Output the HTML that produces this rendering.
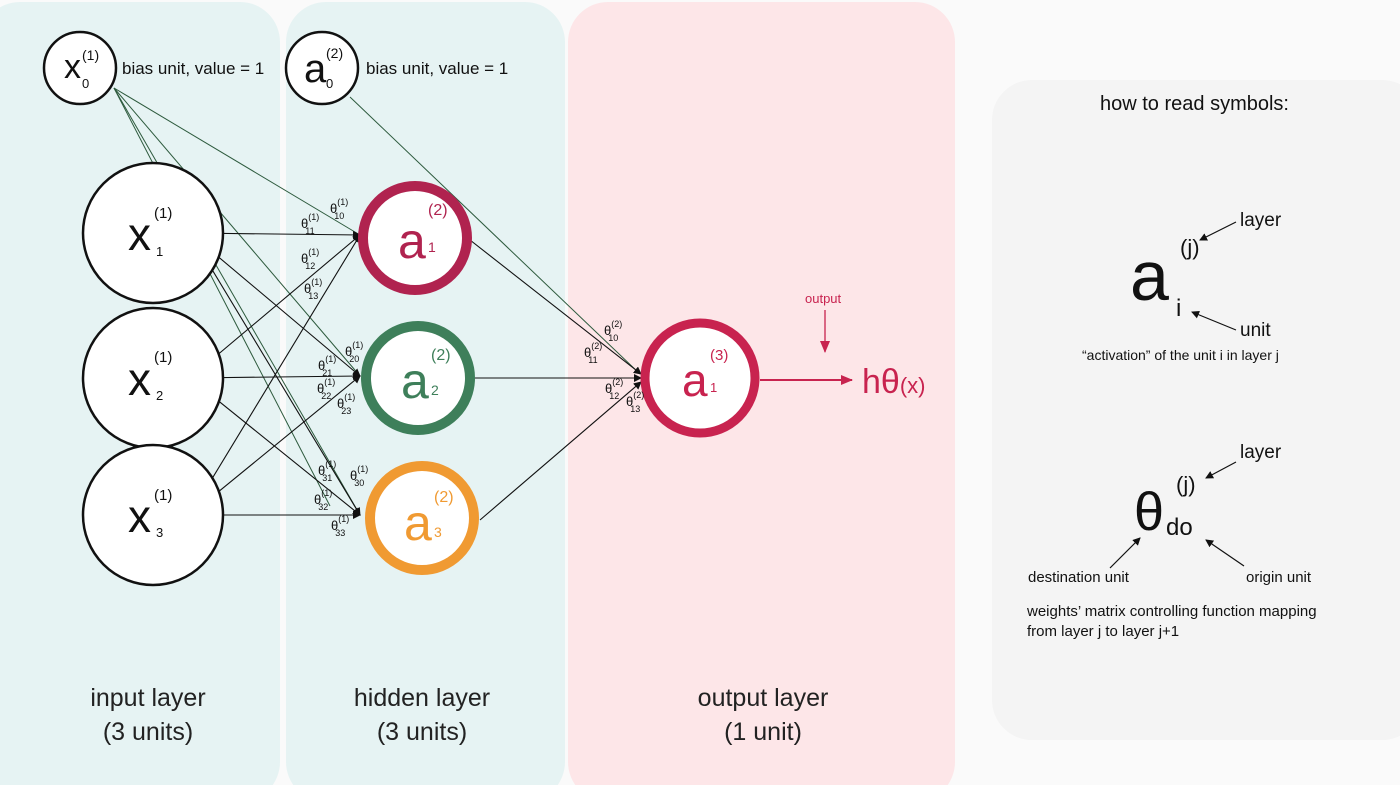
<!DOCTYPE html>
<html><head><style>
body{margin:0;width:1400px;height:785px;background:#fff;overflow:hidden;font-family:"Liberation Sans","DejaVu Sans",sans-serif}
</style></head><body>
<svg width="1400" height="785" viewBox="0 0 1400 785" xmlns="http://www.w3.org/2000/svg" font-family="Liberation Sans, DejaVu Sans, sans-serif">
<defs><marker id="ar" markerWidth="8" markerHeight="8" refX="7" refY="4" orient="auto" markerUnits="userSpaceOnUse"><path d="M0,0 L8,4 L0,8 z" fill="#111"/></marker>
<marker id="ar2" markerWidth="12" markerHeight="10" refX="11" refY="5" orient="auto" markerUnits="userSpaceOnUse"><path d="M0,0 L12,5 L0,10 z" fill="#c8234f"/></marker></defs>
<rect x="0" y="0" width="1400" height="785" fill="#fafafa"/>
<rect x="-20" y="2" width="300" height="800" rx="40" fill="#e6f3f3"/>
<rect x="286" y="2" width="279" height="800" rx="40" fill="#e6f3f3"/>
<rect x="568" y="2" width="387" height="800" rx="40" fill="#fde6e8"/>
<rect x="992" y="80" width="430" height="660" rx="40" fill="#f4f4f4"/>
<g stroke="#2d5a3d" stroke-width="1" fill="none">
<line x1="114" y1="88" x2="360" y2="235"/>
<line x1="114" y1="88" x2="360" y2="376"/>
<line x1="114" y1="88" x2="360" y2="515"/>
<line x1="114" y1="88" x2="330" y2="506"/>
<line x1="350" y1="97" x2="640" y2="374"/>
</g>
<g stroke="#111" stroke-width="1.1" fill="none" marker-end="url(#ar)">
<line x1="190" y1="233" x2="360" y2="235"/>
<line x1="190" y1="233" x2="360" y2="376"/>
<line x1="190" y1="233" x2="360" y2="515"/>
<line x1="190" y1="378" x2="360" y2="235"/>
<line x1="190" y1="378" x2="360" y2="376"/>
<line x1="190" y1="378" x2="360" y2="515"/>
<line x1="190" y1="515" x2="360" y2="235"/>
<line x1="190" y1="515" x2="360" y2="376"/>
<line x1="190" y1="515" x2="360" y2="515"/>
<line x1="470" y1="240" x2="641" y2="374"/>
<line x1="475" y1="378" x2="641" y2="378"/>
<line x1="480" y1="520" x2="641" y2="382"/>
</g>
<line x1="760" y1="380" x2="852" y2="380" stroke="#c8234f" stroke-width="2" marker-end="url(#ar2)"/>
<line x1="825" y1="310" x2="825" y2="352" stroke="#c8234f" stroke-width="1.3" marker-end="url(#ar2)"/>
<text x="805" y="303" font-size="13" fill="#c8234f">output</text>
<text x="862" y="393" font-size="34" fill="#c8234f">hθ<tspan font-size="22">(x)</tspan></text>
<g fill="#fff" stroke="#111" stroke-width="2.5">
<circle cx="80" cy="68" r="36"/><circle cx="322" cy="68" r="36"/>
<circle cx="153" cy="233" r="70"/><circle cx="153" cy="378" r="70"/><circle cx="153" cy="515" r="70"/>
</g>
<circle cx="415" cy="238" r="52" fill="#fff" stroke="#b0234f" stroke-width="10"/>
<circle cx="418" cy="378" r="52" fill="#fff" stroke="#3e7f5a" stroke-width="10"/>
<circle cx="422" cy="518" r="52" fill="#fff" stroke="#f09a32" stroke-width="10"/>
<circle cx="700" cy="378" r="55" fill="#fff" stroke="#c8234f" stroke-width="9"/>
<g font-size="17" fill="#111"><text x="122" y="74">bias unit, value = 1</text><text x="366" y="74">bias unit, value = 1</text></g>
<g fill="#111">
<text x="64" y="78" font-size="34">x</text><text x="82" y="60" font-size="14">(1)</text><text x="82" y="88" font-size="13">0</text>
<text x="304" y="82" font-size="40">a</text><text x="326" y="58" font-size="14">(2)</text><text x="326" y="88" font-size="13">0</text>
<text x="128" y="250" font-size="46">x</text><text x="154" y="218" font-size="15">(1)</text><text x="156" y="256" font-size="13">1</text>
<text x="128" y="395" font-size="46">x</text><text x="154" y="362" font-size="15">(1)</text><text x="156" y="400" font-size="13">2</text>
<text x="128" y="532" font-size="46">x</text><text x="154" y="500" font-size="15">(1)</text><text x="156" y="537" font-size="13">3</text>
</g>
<text x="398" y="258" font-size="50" fill="#b0234f">a</text><text x="428" y="215" font-size="16" fill="#b0234f">(2)</text><text x="428" y="252" font-size="14" fill="#b0234f">1</text>
<text x="401" y="398" font-size="50" fill="#3e7f5a">a</text><text x="431" y="360" font-size="16" fill="#3e7f5a">(2)</text><text x="431" y="395" font-size="14" fill="#3e7f5a">2</text>
<text x="404" y="540" font-size="50" fill="#f09a32">a</text><text x="434" y="502" font-size="16" fill="#f09a32">(2)</text><text x="434" y="537" font-size="14" fill="#f09a32">3</text>
<text x="682" y="396" font-size="46" fill="#c8234f">a</text><text x="710" y="360" font-size="15" fill="#c8234f">(3)</text><text x="710" y="392" font-size="13" fill="#c8234f">1</text>
<g font-size="13" fill="#111">
<text x="330" y="213">θ<tspan font-size="9" dy="-8">(1)</tspan><tspan font-size="9" dx="-14" dy="14">10</tspan></text>
<text x="301" y="228">θ<tspan font-size="9" dy="-8">(1)</tspan><tspan font-size="9" dx="-14" dy="14">11</tspan></text>
<text x="301" y="263">θ<tspan font-size="9" dy="-8">(1)</tspan><tspan font-size="9" dx="-14" dy="14">12</tspan></text>
<text x="304" y="293">θ<tspan font-size="9" dy="-8">(1)</tspan><tspan font-size="9" dx="-14" dy="14">13</tspan></text>
<text x="345" y="356">θ<tspan font-size="9" dy="-8">(1)</tspan><tspan font-size="9" dx="-14" dy="14">20</tspan></text>
<text x="318" y="370">θ<tspan font-size="9" dy="-8">(1)</tspan><tspan font-size="9" dx="-14" dy="14">21</tspan></text>
<text x="317" y="393">θ<tspan font-size="9" dy="-8">(1)</tspan><tspan font-size="9" dx="-14" dy="14">22</tspan></text>
<text x="337" y="408">θ<tspan font-size="9" dy="-8">(1)</tspan><tspan font-size="9" dx="-14" dy="14">23</tspan></text>
<text x="318" y="475">θ<tspan font-size="9" dy="-8">(1)</tspan><tspan font-size="9" dx="-14" dy="14">31</tspan></text>
<text x="350" y="480">θ<tspan font-size="9" dy="-8">(1)</tspan><tspan font-size="9" dx="-14" dy="14">30</tspan></text>
<text x="314" y="504">θ<tspan font-size="9" dy="-8">(1)</tspan><tspan font-size="9" dx="-14" dy="14">32</tspan></text>
<text x="331" y="530">θ<tspan font-size="9" dy="-8">(1)</tspan><tspan font-size="9" dx="-14" dy="14">33</tspan></text>
<text x="604" y="335">θ<tspan font-size="9" dy="-8">(2)</tspan><tspan font-size="9" dx="-14" dy="14">10</tspan></text>
<text x="584" y="357">θ<tspan font-size="9" dy="-8">(2)</tspan><tspan font-size="9" dx="-14" dy="14">11</tspan></text>
<text x="605" y="393">θ<tspan font-size="9" dy="-8">(2)</tspan><tspan font-size="9" dx="-14" dy="14">12</tspan></text>
<text x="626" y="406">θ<tspan font-size="9" dy="-8">(2)</tspan><tspan font-size="9" dx="-14" dy="14">13</tspan></text>
</g>
<g font-size="25" fill="#222" text-anchor="middle">
<text x="148" y="706">input layer</text><text x="148" y="740">(3 units)</text>
<text x="422" y="706">hidden layer</text><text x="422" y="740">(3 units)</text>
<text x="763" y="706">output layer</text><text x="763" y="740">(1 unit)</text>
</g>
<g fill="#111">
<text x="1100" y="110" font-size="20">how to read symbols:</text>
<text x="1130" y="300" font-size="70">a</text><text x="1180" y="255" font-size="22">(j)</text><text x="1176" y="316" font-size="24">i</text>
<text x="1240" y="226" font-size="19">layer</text><text x="1240" y="336" font-size="19">unit</text>
<text x="1082" y="360" font-size="14">“activation” of the unit i in layer j</text>
<text x="1134" y="530" font-size="54">θ</text><text x="1176" y="492" font-size="22">(j)</text><text x="1166" y="535" font-size="24">do</text>
<text x="1240" y="458" font-size="19">layer</text>
<text x="1028" y="582" font-size="15">destination unit</text><text x="1246" y="582" font-size="15">origin unit</text>
<text x="1027" y="616" font-size="15">weights’ matrix controlling function mapping</text>
<text x="1027" y="636" font-size="15">from layer j to layer j+1</text>
</g>
<g stroke="#111" stroke-width="1.2" marker-end="url(#ar)">
<line x1="1236" y1="222" x2="1200" y2="240"/>
<line x1="1236" y1="330" x2="1192" y2="312"/>
<line x1="1236" y1="462" x2="1206" y2="478"/>
<line x1="1110" y1="568" x2="1140" y2="538"/>
<line x1="1244" y1="566" x2="1206" y2="540"/>
</g>
</svg>
</body></html>
